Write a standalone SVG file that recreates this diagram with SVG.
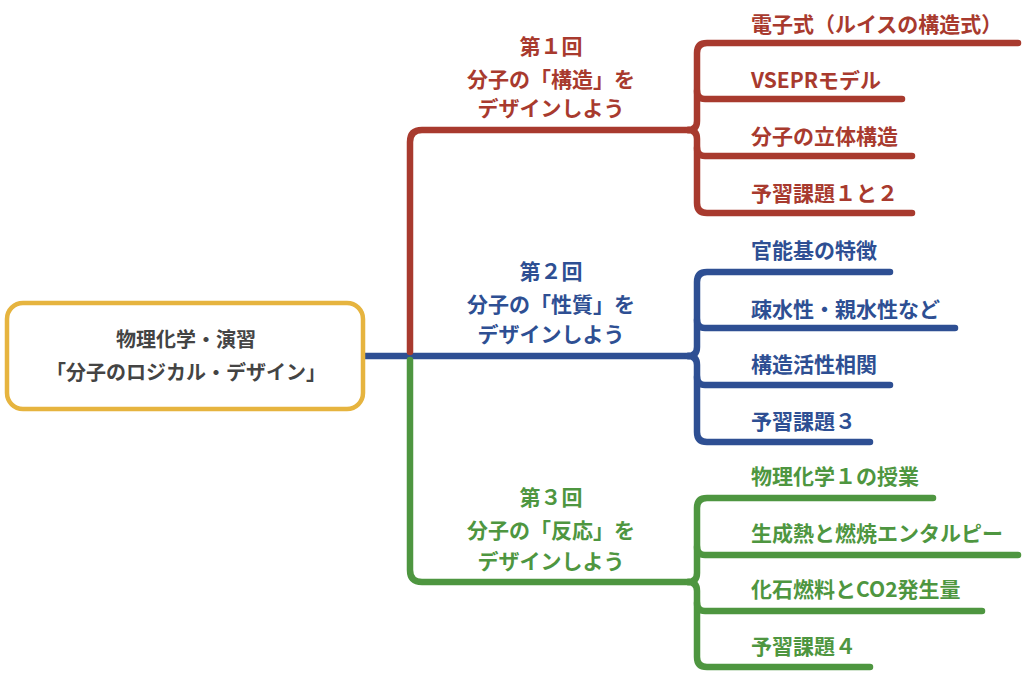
<svg xmlns="http://www.w3.org/2000/svg" width="1024" height="674" viewBox="0 0 1024 674">
<style>
text{font-family:"Noto Sans CJK JP","Noto Sans",sans-serif;font-weight:bold}
.ln{fill:none;stroke-width:6.5;stroke-linecap:round;stroke-linejoin:round}
.r{stroke:#A83A2E}.b{stroke:#2E4F93}.g{stroke:#4E9640}
.tr{fill:#A83A2E}.tb{fill:#2E4F93}.tg{fill:#4E9640}
.br{font-size:21px;text-anchor:middle}
.ch{font-size:21px}
</style>
<rect width="1024" height="674" fill="#fff"/>
<g id="connectors">
<path class="ln b" d="M365 356 L690 356"/>
<path class="ln r" d="M410 352 L410 142 Q410 130 422 130 L690 130"/>
<path class="ln g" d="M410 360 L410 570 Q410 582 422 582 L690 582"/>
<path class="ln r" d="M688 130 Q697 130 697 121 L697 53 Q697 43 707 43 L1018 43"/>
<path class="ln r" d="M688 130 Q697 130 697 139 L697 203 Q697 213 707 213 L912 213"/>
<path class="ln r" d="M697 91 Q697 99 705 99 L902 99"/>
<path class="ln r" d="M697 148 Q697 156 705 156 L912 156"/>
<path class="ln b" d="M688 356 Q697 356 697 347 L697 282 Q697 272 707 272 L890 272"/>
<path class="ln b" d="M688 356 Q697 356 697 365 L697 432 Q697 442 707 442 L870 442"/>
<path class="ln b" d="M697 320 Q697 328 705 328 L955 328"/>
<path class="ln b" d="M697 377 Q697 385 705 385 L890 385"/>
<path class="ln g" d="M688 582 Q697 582 697 573 L697 508 Q697 498 707 498 L933 498"/>
<path class="ln g" d="M688 582 Q697 582 697 591 L697 657 Q697 667 707 667 L870 667"/>
<path class="ln g" d="M697 547 Q697 555 705 555 L1018 555"/>
<path class="ln g" d="M697 603 Q697 611 705 611 L982 611"/>
</g>
<g id="root">
<rect x="7" y="303" width="356" height="106" rx="16" fill="#fff" stroke="#E6B43F" stroke-width="4.5"/>
<text x="186" y="347" font-size="20" text-anchor="middle" fill="#444">物理化学・演習</text>
<text x="186" y="380" font-size="20" text-anchor="middle" fill="#444">「分子のロジカル・デザイン」</text>
</g>
<g id="branch1" class="tr">
<text class="br" x="551" y="54">第１回</text>
<text class="br" x="551" y="87">分子の「構造」を</text>
<text class="br" x="551" y="116">デザインしよう</text>
</g>
<g id="branch2" class="tb">
<text class="br" x="551" y="279">第２回</text>
<text class="br" x="551" y="312">分子の「性質」を</text>
<text class="br" x="551" y="342">デザインしよう</text>
</g>
<g id="branch3" class="tg">
<text class="br" x="551" y="505">第３回</text>
<text class="br" x="551" y="538">分子の「反応」を</text>
<text class="br" x="551" y="569">デザインしよう</text>
</g>
<g id="leaf1-1" class="tr"><text class="ch" x="751" y="32">電子式（ルイスの構造式）</text></g>
<g id="leaf1-2" class="tr"><text class="ch" x="751" y="88">VSEPRモデル</text></g>
<g id="leaf1-3" class="tr"><text class="ch" x="751" y="144">分子の立体構造</text></g>
<g id="leaf1-4" class="tr"><text class="ch" x="751" y="201">予習課題１と２</text></g>
<g id="leaf2-1" class="tb"><text class="ch" x="751" y="258">官能基の特徴</text></g>
<g id="leaf2-2" class="tb"><text class="ch" x="751" y="317">疎水性・親水性など</text></g>
<g id="leaf2-3" class="tb"><text class="ch" x="751" y="372">構造活性相関</text></g>
<g id="leaf2-4" class="tb"><text class="ch" x="751" y="429">予習課題３</text></g>
<g id="leaf3-1" class="tg"><text class="ch" x="751" y="484">物理化学１の授業</text></g>
<g id="leaf3-2" class="tg"><text class="ch" x="751" y="541">生成熱と燃焼エンタルピー</text></g>
<g id="leaf3-3" class="tg"><text class="ch" x="751" y="597">化石燃料とCO2発生量</text></g>
<g id="leaf3-4" class="tg"><text class="ch" x="751" y="654">予習課題４</text></g>
</svg>
